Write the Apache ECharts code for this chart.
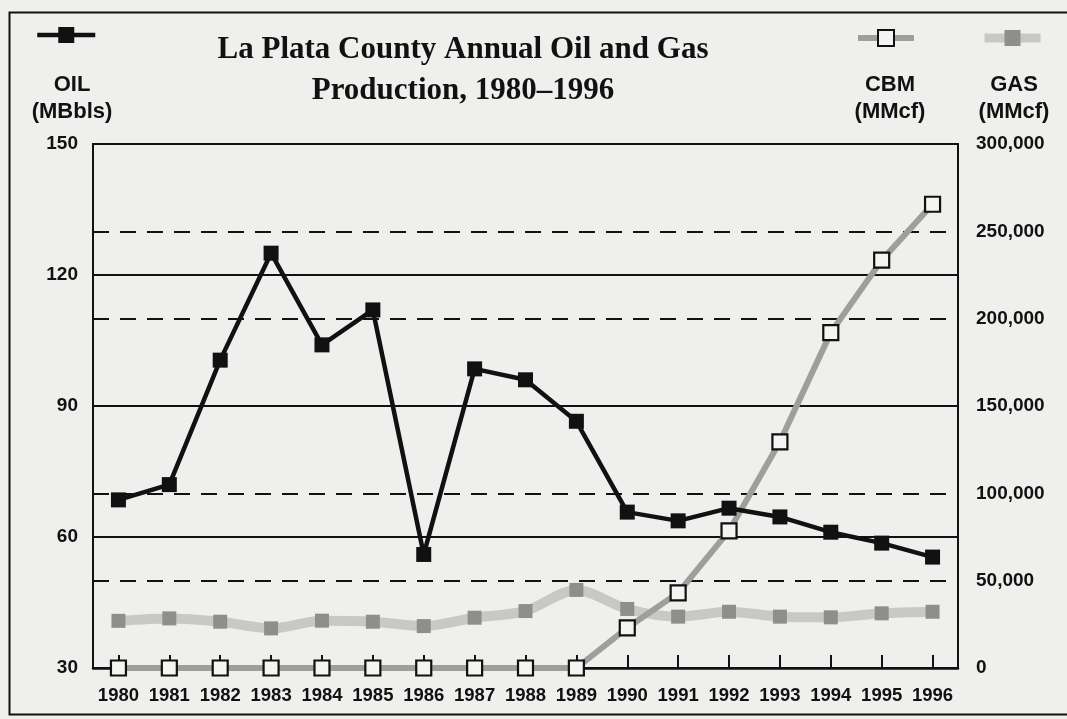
<!DOCTYPE html>
<html style="height: 100%">
<head>
    <meta charset="utf-8">
    <script src="https://cdn.jsdelivr.net/npm/echarts@6/dist/echarts.min.js"></script>
    <title>La Plata County Oil and Gas</title>
</head>
<body style="height: 100%; margin: 0; background: #efefed">
<div id="container" style="width: 1067px; height: 719px"></div>
<script type="text/javascript">
let years = ['1980','1981','1982','1983','1984','1985','1986','1987','1988',
             '1989','1990','1991','1992','1993','1994','1995','1996']
// oil, thousand barrels
let oil = [68.5, 72, 100.5, 125, 104, 112, 56, 98.5, 96, 86.5, 65.7, 63.7, 66.6, 64.6, 61.1, 58.6, 55.4]
// coalbed methane, MMcf
let cbm = [0, 0, 0, 0, 0, 0, 0, 0, 0, 0, 23000, 43000, 78500, 129500, 192000, 233500, 265500]
// conventional gas, MMcf
let gas = [27000, 28400, 26500, 22700, 27100, 26500, 24000, 28800, 32600, 44700,
           33800, 29400, 32200, 29400, 29000, 31300, 32200]

let sans = 'Liberation Sans'
let ink = '#111'
let nameStyle = {fontFamily: sans, fontWeight: 'bold', fontSize: 22, lineHeight: 27, color: ink}

let chart = echarts.init(document.getElementById("container"))

chart.setOption({
    backgroundColor: '#efefed',
    animation: false,
    title: [
        {
            text: 'La Plata County Annual Oil and Gas\nProduction, 1980\u20131996',
            left: 458, top: 24, textAlign: 'center',
            textStyle: {fontFamily: 'Liberation Serif', fontWeight: 'bold', fontSize: 31,
                        lineHeight: 41, color: ink}
        },
        {text: 'OIL\n(MBbls)', left: 67, top: 66, textAlign: 'center', textStyle: nameStyle},
        {text: 'CBM\n(MMcf)', left: 885, top: 66, textAlign: 'center', textStyle: nameStyle},
        {text: 'GAS\n(MMcf)', left: 1009, top: 66, textAlign: 'center', textStyle: nameStyle}
    ],
    legend: [
        {data: ['OIL'], left: 35, top: 25, itemWidth: 58, itemHeight: 20, formatter: () => '',
         padding: 0, lineStyle: {width: 4.5}},
        {data: ['CBM'], left: 855, top: 28, itemWidth: 56, itemHeight: 20, formatter: () => '',
         padding: 0, lineStyle: {width: 6}},
        {data: ['GAS'], left: 980, top: 28, itemWidth: 56, itemHeight: 20, formatter: () => '',
         padding: 0, lineStyle: {width: 9}}
    ],
    grid: {
        left: 93, right: 109, top: 144, bottom: 51,
        show: true, borderColor: ink, borderWidth: 2, backgroundColor: 'transparent'
    },
    xAxis: {
        type: 'category',
        data: years,
        boundaryGap: true,
        axisLine: {show: true, lineStyle: {color: ink, width: 2.5}},
        axisTick: {show: true, interval: 0, alignWithLabel: true, inside: true, length: 13,
                   lineStyle: {color: ink, width: 2}},
        axisLabel: {interval: 0, fontFamily: sans, fontWeight: 'bold', fontSize: 18.5,
                    color: ink, margin: 18}
    },
    yAxis: [
        {
            type: 'value', min: 30, max: 150, interval: 30,
            axisLine: {show: true, lineStyle: {color: ink, width: 2}},
            axisTick: {show: false},
            axisLabel: {fontFamily: sans, fontWeight: 'bold', fontSize: 19, color: ink, margin: 15},
            splitLine: {show: true, lineStyle: {color: ink, width: 1.8}}
        },
        {
            type: 'value', min: 0, max: 300000, interval: 50000,
            axisLine: {show: true, lineStyle: {color: ink, width: 2}},
            axisTick: {show: false},
            axisLabel: {fontFamily: sans, fontWeight: 'bold', fontSize: 19, color: ink, margin: 18,
                        formatter: v => v.toLocaleString('en-US')},
            splitLine: {show: true, lineStyle: {color: ink, width: 2, type: [16, 11]}}
        }
    ],
    series: [
        {
            name: 'GAS', type: 'line', yAxisIndex: 1, data: gas, smooth: 0.3,
            symbol: 'rect', symbolSize: 14,
            lineStyle: {color: '#c8c8c6', width: 10},
            itemStyle: {color: '#8e8e8c'},
            z: 2
        },
        {
            name: 'CBM', type: 'line', yAxisIndex: 1, data: cbm,
            symbol: 'rect', symbolSize: 15,
            lineStyle: {color: '#9e9e9c', width: 6},
            itemStyle: {color: '#f4f4f2', borderColor: ink, borderWidth: 2.2},
            z: 3
        },
        {
            name: 'OIL', type: 'line', yAxisIndex: 0, data: oil,
            symbol: 'rect', symbolSize: 15,
            lineStyle: {color: ink, width: 4.5},
            itemStyle: {color: ink},
            z: 4
        }
    ],
    graphic: [
        {
            type: 'rect', left: 7, top: 10, silent: true,
            shape: {width: 1080, height: 702},
            style: {fill: 'none', stroke: ink, lineWidth: 2}
        }
    ]
}, true)
</script>
</body>
</html>
